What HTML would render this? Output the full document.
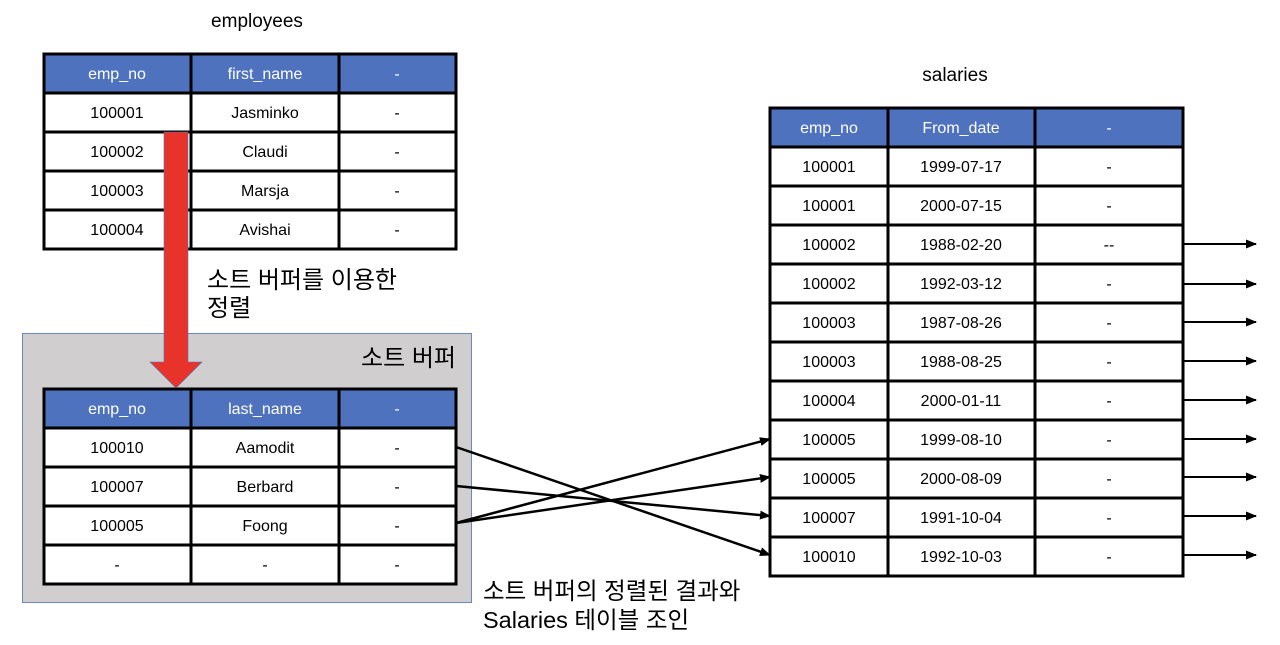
<!DOCTYPE html>
<html><head><meta charset="utf-8"><style>
html,body{margin:0;padding:0;background:#fff;}
svg{display:block;}
text{font-family:"Liberation Sans","Noto Sans CJK KR",sans-serif;}
</style></head><body>
<svg width="1280" height="645" viewBox="0 0 1280 645" xmlns="http://www.w3.org/2000/svg">
<defs><marker id="ah" markerWidth="11" markerHeight="9" refX="10" refY="4.5" orient="auto" markerUnits="userSpaceOnUse"><path d="M0,0 L11,4.5 L0,9 Z" fill="#000"/></marker></defs>
<text x="257" y="27" font-size="19" text-anchor="middle">employees</text>
<text x="955" y="81" font-size="19" text-anchor="middle">salaries</text>

<rect x="22.5" y="333.5" width="449" height="269" fill="#d0cece" stroke="#6f86b8" stroke-width="1"/>
<text x="456" y="366" font-size="24" text-anchor="end">소트 버퍼</text>

<g font-size="16" text-anchor="middle">
<rect x="44" y="54" width="412" height="39" fill="#4f72be"/>
<rect x="44" y="93" width="412" height="156" fill="#fff"/>
<g stroke="#000" stroke-width="3" fill="none">
<rect x="44" y="54" width="412" height="195"/>
<line x1="191" y1="54" x2="191" y2="249"/><line x1="339" y1="54" x2="339" y2="249"/>
<line x1="44" y1="93" x2="456" y2="93"/><line x1="44" y1="132" x2="456" y2="132"/>
<line x1="44" y1="171" x2="456" y2="171"/><line x1="44" y1="210" x2="456" y2="210"/>
</g>
<g fill="#fff"><text x="117" y="79">emp_no</text><text x="265" y="79">first_name</text><text x="397" y="79">-</text></g>
<text x="117" y="118">100001</text><text x="265" y="118">Jasminko</text><text x="397" y="118">-</text>
<text x="117" y="157">100002</text><text x="265" y="157">Claudi</text><text x="397" y="157">-</text>
<text x="117" y="196">100003</text><text x="265" y="196">Marsja</text><text x="397" y="196">-</text>
<text x="117" y="235">100004</text><text x="265" y="235">Avishai</text><text x="397" y="235">-</text>
</g>

<g font-size="16" text-anchor="middle">
<rect x="44" y="389" width="412" height="39" fill="#4f72be"/>
<rect x="44" y="428" width="412" height="156" fill="#fff"/>
<g stroke="#000" stroke-width="3" fill="none">
<rect x="44" y="389" width="412" height="195"/>
<line x1="191" y1="389" x2="191" y2="584"/><line x1="339" y1="389" x2="339" y2="584"/>
<line x1="44" y1="428" x2="456" y2="428"/><line x1="44" y1="467" x2="456" y2="467"/>
<line x1="44" y1="506" x2="456" y2="506"/><line x1="44" y1="545" x2="456" y2="545"/>
</g>
<g fill="#fff"><text x="117" y="414">emp_no</text><text x="265" y="414">last_name</text><text x="397" y="414">-</text></g>
<text x="117" y="453">100010</text><text x="265" y="453">Aamodit</text><text x="397" y="453">-</text>
<text x="117" y="492">100007</text><text x="265" y="492">Berbard</text><text x="397" y="492">-</text>
<text x="117" y="531">100005</text><text x="265" y="531">Foong</text><text x="397" y="531">-</text>
<text x="117" y="570">-</text><text x="265" y="570">-</text><text x="397" y="570">-</text>
</g>

<path d="M164,132 L188,132 L188,362 L202,362 L176,388 L150,362 L164,362 Z" fill="#e8332a" stroke="#4f72be" stroke-width="0.6"/>

<text x="207" y="288" font-size="24">소트 버퍼를 이용한</text>
<text x="207" y="316" font-size="24">정렬</text>

<g font-size="16" text-anchor="middle">
<rect x="770" y="108" width="413" height="39" fill="#4f72be"/>
<rect x="770" y="147" width="413" height="429" fill="#fff"/>
<g stroke="#000" stroke-width="3" fill="none">
<rect x="770" y="108" width="413" height="468"/>
<line x1="888" y1="108" x2="888" y2="576"/><line x1="1035" y1="108" x2="1035" y2="576"/>
<line x1="770" y1="147" x2="1183" y2="147"/><line x1="770" y1="186" x2="1183" y2="186"/>
<line x1="770" y1="225" x2="1183" y2="225"/><line x1="770" y1="264" x2="1183" y2="264"/>
<line x1="770" y1="303" x2="1183" y2="303"/><line x1="770" y1="342" x2="1183" y2="342"/>
<line x1="770" y1="381" x2="1183" y2="381"/><line x1="770" y1="420" x2="1183" y2="420"/>
<line x1="770" y1="459" x2="1183" y2="459"/><line x1="770" y1="498" x2="1183" y2="498"/>
<line x1="770" y1="537" x2="1183" y2="537"/>
</g>
<g fill="#fff"><text x="829" y="133">emp_no</text><text x="961" y="133">From_date</text><text x="1109" y="133">-</text></g>
<text x="829" y="172">100001</text><text x="961" y="172">1999-07-17</text><text x="1109" y="172">-</text>
<text x="829" y="211">100001</text><text x="961" y="211">2000-07-15</text><text x="1109" y="211">-</text>
<text x="829" y="250">100002</text><text x="961" y="250">1988-02-20</text><text x="1109" y="250">--</text>
<text x="829" y="289">100002</text><text x="961" y="289">1992-03-12</text><text x="1109" y="289">-</text>
<text x="829" y="328">100003</text><text x="961" y="328">1987-08-26</text><text x="1109" y="328">-</text>
<text x="829" y="367">100003</text><text x="961" y="367">1988-08-25</text><text x="1109" y="367">-</text>
<text x="829" y="406">100004</text><text x="961" y="406">2000-01-11</text><text x="1109" y="406">-</text>
<text x="829" y="445">100005</text><text x="961" y="445">1999-08-10</text><text x="1109" y="445">-</text>
<text x="829" y="484">100005</text><text x="961" y="484">2000-08-09</text><text x="1109" y="484">-</text>
<text x="829" y="523">100007</text><text x="961" y="523">1991-10-04</text><text x="1109" y="523">-</text>
<text x="829" y="562">100010</text><text x="961" y="562">1992-10-03</text><text x="1109" y="562">-</text>
</g>

<g stroke="#000" stroke-width="2" marker-end="url(#ah)">
<line x1="1183" y1="244" x2="1256" y2="244"/><line x1="1183" y1="284" x2="1256" y2="284"/>
<line x1="1183" y1="322" x2="1256" y2="322"/><line x1="1183" y1="361" x2="1256" y2="361"/>
<line x1="1183" y1="400" x2="1256" y2="400"/><line x1="1183" y1="439" x2="1256" y2="439"/>
<line x1="1183" y1="477" x2="1256" y2="477"/><line x1="1183" y1="516" x2="1256" y2="516"/>
<line x1="1183" y1="555" x2="1256" y2="555"/>
</g>

<g stroke="#000" stroke-width="2.5" marker-end="url(#ah)">
<line x1="456" y1="447" x2="770" y2="555"/>
<line x1="456" y1="486" x2="770" y2="516"/>
<line x1="456" y1="523" x2="770" y2="439"/>
<line x1="456" y1="523" x2="770" y2="477"/>
</g>

<text x="483" y="599" font-size="23.5">소트 버퍼의 정렬된 결과와</text>
<text x="483" y="628" font-size="23.5">Salaries 테이블 조인</text>
</svg>
</body></html>
